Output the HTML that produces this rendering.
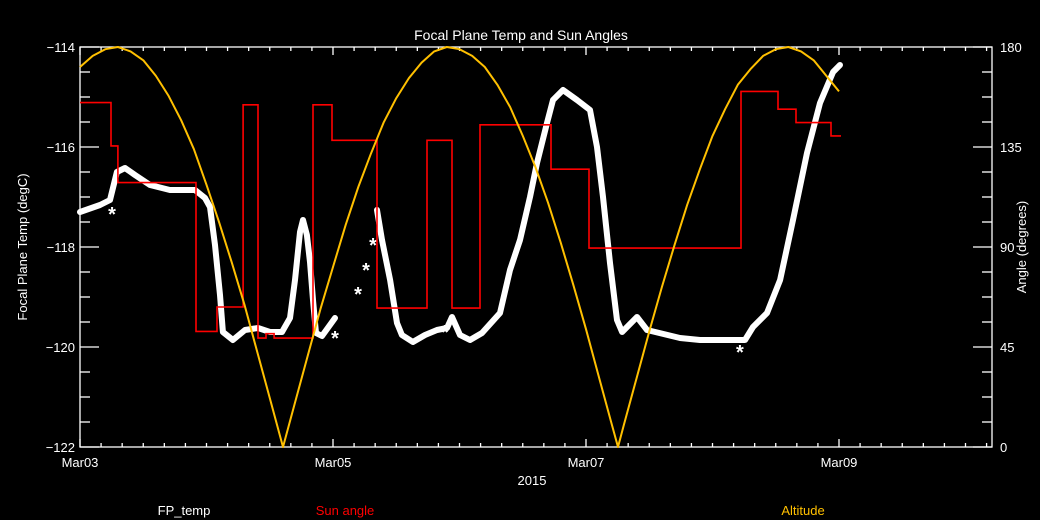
<!DOCTYPE html>
<html><head><meta charset="utf-8">
<style>
html,body{margin:0;padding:0;background:#000;}
svg{display:block;font-family:"Liberation Sans",sans-serif;}
</style></head>
<body>
<svg id="chart" width="1040" height="520" viewBox="0 0 1040 520" xmlns="http://www.w3.org/2000/svg">
<rect x="0" y="0" width="1040" height="520" fill="#000"/>
<text x="521" y="40" fill="#fff" font-size="14" text-anchor="middle">Focal Plane Temp and Sun Angles</text>
<text transform="translate(27,247) rotate(-90)" fill="#fff" font-size="13" text-anchor="middle">Focal Plane Temp (degC)</text>
<text transform="translate(1026,247) rotate(-90)" fill="#fff" font-size="13" text-anchor="middle">Angle (degrees)</text>
<text x="532" y="485" fill="#fff" font-size="13" text-anchor="middle">2015</text>
<text x="184" y="515" fill="#fff" font-size="13" text-anchor="middle">FP_temp</text>
<text x="345" y="515" fill="#ff0000" font-size="13" text-anchor="middle">Sun angle</text>
<text x="803" y="515" fill="#ffc000" font-size="13" text-anchor="middle">Altitude</text>
<g id="axes"></g>
<g id="series"></g>
</svg>
<script>
// x: days since Mar03 00:00
const xTickLabels = ["Mar03","Mar05","Mar07","Mar09"];
const xTickDays = [0,2,4,6];
const leftTicks = [-114,-116,-118,-120,-122];
const rightTicks = [180,135,90,45,0];

const altT = [0,0.1,0.2,0.3,0.4,0.5,0.6,0.7,0.8,0.9,1.0,1.1,1.2,1.3,1.4,1.5,1.605,1.7,1.8,1.9,2.0,2.1,2.2,2.3,2.4,2.5,2.6,2.7,2.8,2.9,3.0,3.1,3.2,3.3,3.4,3.5,3.6,3.7,3.8,3.9,4.0,4.1,4.2,4.253,4.3,4.4,4.5,4.6,4.7,4.8,4.9,5.0,5.1,5.2,5.3,5.4,5.5,5.6,5.7,5.8,5.9,6.0];
const altV = [171,176,179,180,178,174,167,158,147,134,118,101,83,64,43,22,0,20,41,62,81,100,117,132,146,157,166,173,178,180,179,176,171,163,153,140,126,110,92,73,53,32,11,0,10,31,52,72,91,109,125,140,152,163,170,176,179,180,178,174,167,160];

const sunT = [0,0.245,0.30,0.917,1.083,1.289,1.407,1.470,1.534,1.842,1.992,2.348,2.743,2.941,3.162,3.723,4.024,5.225,5.518,5.660,5.937];
const sunV = [155,135.5,119,52,63,154,49,51,49,154,138,62.5,138,62.5,145,125,89.5,160,152,146,140];
const sunEnd = 6.016;

const fpT = [0,0.158,0.237,0.292,0.356,0.435,0.553,0.711,0.909,0.988,1.028,1.067,1.107,1.130,1.209,1.304,1.407,1.502,1.597,1.660,1.700,1.739,1.763,1.794,1.818,1.842,1.866,1.913,2.016,null,2.348,2.387,2.451,2.506,2.545,2.632,2.727,2.822,2.901,2.941,3.004,3.083,3.178,3.320,3.399,3.478,3.557,3.613,3.692,3.739,3.818,3.929,4.032,4.087,4.134,4.190,4.245,4.285,4.403,4.482,4.743,4.901,5.257,5.320,5.431,5.534,5.636,5.747,5.850,5.953,6.008];
const fpV = [-117.30,-117.16,-117.06,-116.50,-116.42,-116.56,-116.76,-116.86,-116.86,-117.02,-117.20,-117.96,-118.96,-119.70,-119.86,-119.66,-119.62,-119.70,-119.70,-119.42,-118.66,-117.70,-117.46,-117.76,-118.30,-119.06,-119.72,-119.78,-119.42,null,-117.26,-117.86,-118.66,-119.52,-119.76,-119.90,-119.76,-119.66,-119.62,-119.40,-119.76,-119.86,-119.72,-119.32,-118.46,-117.86,-117.00,-116.32,-115.52,-115.06,-114.86,-115.06,-115.26,-116.00,-117.00,-118.32,-119.46,-119.70,-119.40,-119.66,-119.82,-119.86,-119.86,-119.60,-119.32,-118.66,-117.46,-116.12,-115.12,-114.50,-114.36];
const fpIsoT = [0.253,2.316,2.261,2.198,2.016,2.885,5.217];
const fpIsoV = [-117.30,-117.92,-118.42,-118.90,-119.78,-119.66,-120.06];

const X0=80, X1=992, Y0=47, Y1=447;
const dayPx = 126.5;
function xs(t){return X0 + t*dayPx;}
function yl(v){return Y0 + (-114 - v)/8*(Y1-Y0);}
function yr(a){return Y1 - a/180*(Y1-Y0);}
const NS="http://www.w3.org/2000/svg";
function mk(tag,attrs,parent){const e=document.createElementNS(NS,tag);for(const k in attrs)e.setAttribute(k,attrs[k]);parent.appendChild(e);return e;}
const ax=document.getElementById('axes');
const sr=document.getElementById('series');

let fr=mk('rect',{x:X0,y:Y0,width:X1-X0,height:Y1-Y0,fill:'none',stroke:'#fff','stroke-width':1.3},ax);



for(let i=0;i*dayPx/6<=X1-X0+0.5;i++){
  const x=X0+i*dayPx/6;
  const major=(i%12===0);
  const L=major?8:4;
  let t1=mk('line',{x1:x,y1:Y1,x2:x,y2:Y1-L,stroke:'#fff','stroke-width':1.3},ax);
  
  
  let t2=mk('line',{x1:x,y1:Y0,x2:x,y2:Y0+L,stroke:'#fff','stroke-width':1.3},ax);
  
  
}
xTickLabels.forEach((lab,i)=>{
  const t=mk('text',{x:xs(xTickDays[i]),y:467,fill:'#fff','font-size':13,'text-anchor':'middle'},ax);
  t.textContent=lab;
  
  
});
for(let i=0;i<=16;i++){
  const y=Y0+i*(Y1-Y0)/16;
  const major=(i%4===0);
  const L=major?19:10;
  let a=mk('line',{x1:X0,y1:y,x2:X0+L,y2:y,stroke:'#fff','stroke-width':1.3},ax);
  
  
  let b=mk('line',{x1:X1,y1:y,x2:X1-L,y2:y,stroke:'#fff','stroke-width':1.3},ax);
  
  
}
leftTicks.forEach(v=>{
  const t=mk('text',{x:75,y:yl(v)+5,fill:'#fff','font-size':13,'text-anchor':'end'},ax);
  t.textContent=String(v).replace('-','\u2212');
  
  
});
rightTicks.forEach(v=>{
  const t=mk('text',{x:1000,y:yr(v)+5,fill:'#fff','font-size':13,'text-anchor':'start'},ax);
  t.textContent=String(v);
  
  
});

let segs=[],cur=[];
fpT.forEach((t,i)=>{ if(t===null){segs.push(cur);cur=[];} else cur.push(xs(t).toFixed(1)+','+yl(fpV[i]).toFixed(1)); });
segs.push(cur);
segs.forEach(s=>{
  const p=mk('polyline',{points:s.join(' '),fill:'none',stroke:'#fff','stroke-width':6,'stroke-linejoin':'round','stroke-linecap':'round'},sr);
  
  
});
fpIsoT.forEach((t,i)=>{
  const s=mk('text',{x:xs(t),y:yl(fpIsoV[i])+9,fill:'#fff','font-size':20,'font-weight':'bold','text-anchor':'middle'},sr);
  s.textContent='*';
  
  
});

let sp=[];
sunT.forEach((t,i)=>{
  const tn=(i<sunT.length-1)?sunT[i+1]:sunEnd;
  sp.push(xs(t).toFixed(1)+','+yr(sunV[i]).toFixed(1));
  sp.push(xs(tn).toFixed(1)+','+yr(sunV[i]).toFixed(1));
});
const sl=mk('polyline',{points:sp.join(' '),fill:'none',stroke:'#ff0000','stroke-width':1.6},sr);



const ap=altT.map((t,i)=>xs(t).toFixed(1)+','+yr(altV[i]).toFixed(1)).join(' ');
const al=mk('polyline',{points:ap,fill:'none',stroke:'#ffc000','stroke-width':2,'stroke-linejoin':'round'},sr);


</script>
</body></html>
